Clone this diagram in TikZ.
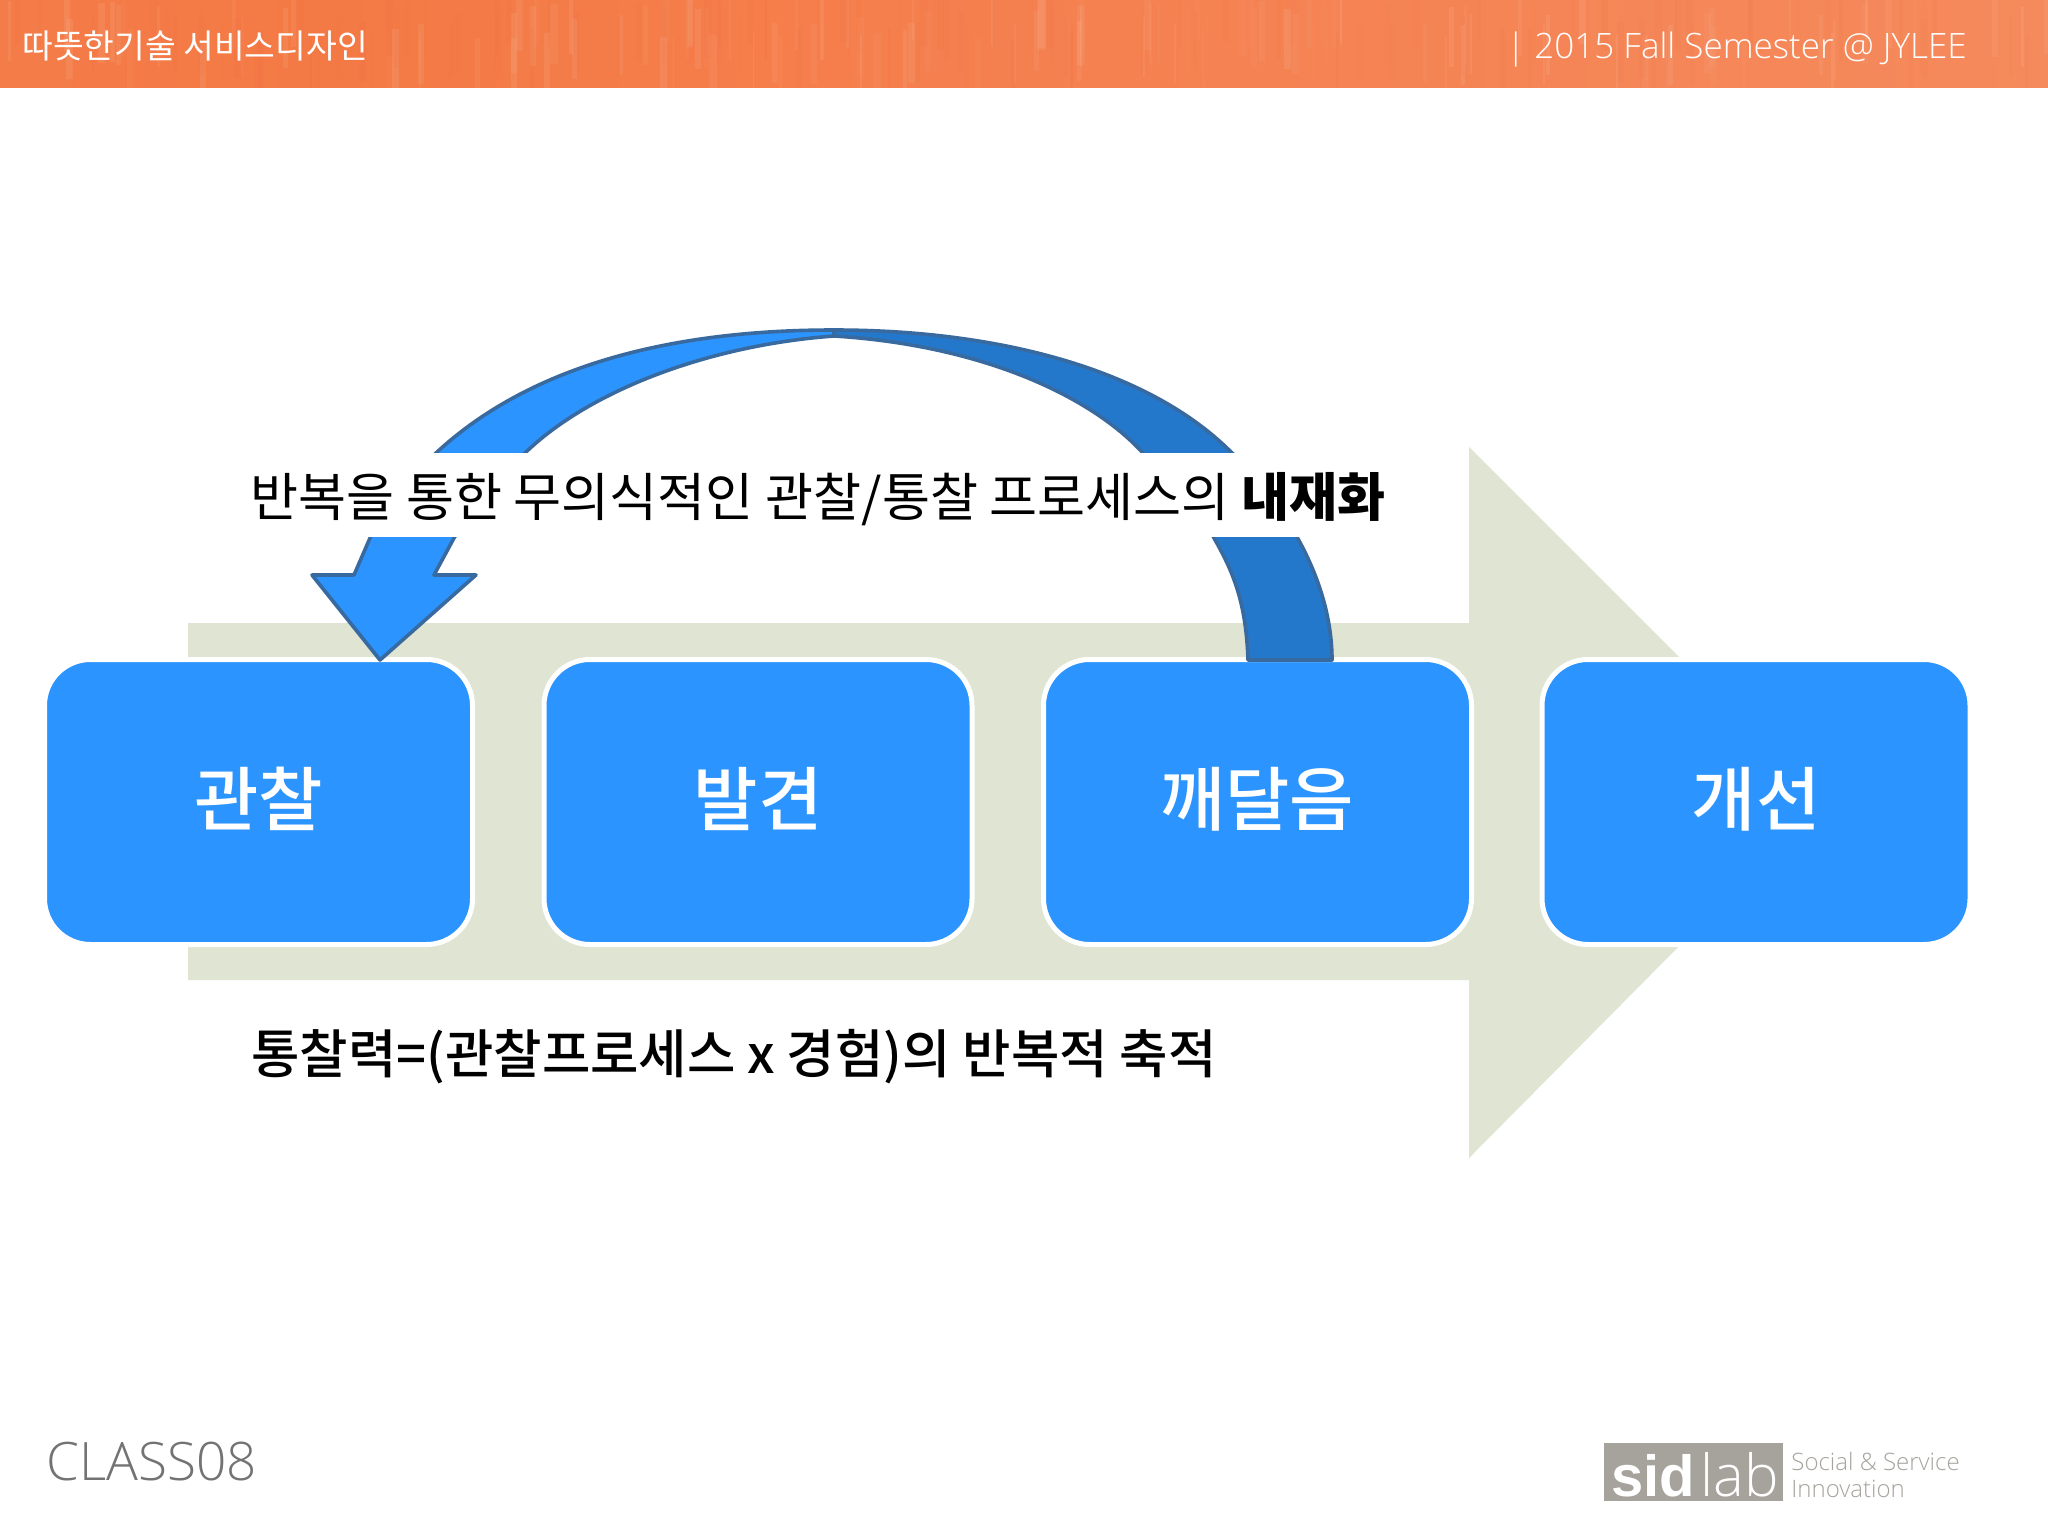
\documentclass[tikz,border=0pt]{standalone}
\usepackage{fontspec}
\setmainfont{Noto Sans CJK KR}
\newfontfamily\krmed{Noto Sans CJK KR Medium}
\newfontfamily\latinfont{Open Sans}
\newfontfamily\latinlight{Open Sans Light}
\newfontfamily\logofont{Liberation Sans}
\definecolor{boxblue}{HTML}{2C94FE}
\definecolor{darkblue}{HTML}{2478CB}
\definecolor{edgeblue}{HTML}{386AA0}
\definecolor{sage}{HTML}{DFE5D2}
\definecolor{logogrey}{HTML}{A5A39C}
\definecolor{ora1}{HTML}{F68A6C}
\definecolor{ora2}{HTML}{F5804F}
\definecolor{ora3}{HTML}{F47A45}
\definecolor{ora4}{HTML}{F58A5C}
\definecolor{ora5}{HTML}{E8603A}
\pgfdeclarehorizontalshading{headershade}{100bp}{
  color(0bp)=(ora1); color(8bp)=(ora2); color(33bp)=(ora3); color(50bp)=(ora2);
  color(75bp)=(ora4); color(97bp)=(ora4); color(100bp)=(ora5)}
\tikzset{
  x=0.5pt,y=-0.5pt,
  stagebox/.style={draw=white,line width=2.5pt,fill=boxblue,rounded corners=23pt,
    minimum width=214pt,minimum height=142.5pt,inner sep=0pt,text=white,
    font=\krmed\fontsize{35}{35}\selectfont},
  curved/.style={draw=edgeblue,line width=1.8pt,line join=round},
  headtext/.style={text=white,inner sep=0pt,anchor=base west},
}
\begin{document}
\begin{tikzpicture}
\useasboundingbox (0,0) rectangle (2048,1536);
\fill[white] (0,0) rectangle (2048,1536);
% header band
\shade[shading=headershade] (0,0) rectangle (2048,88);
\begin{scope}
\clip (0,0) rectangle (2048,88);
\pgfmathsetseed{7}
\foreach \i in {1,...,240}{
  \pgfmathsetmacro{\xa}{rnd*2048}
  \pgfmathsetmacro{\wa}{1+rnd*7}
  \pgfmathsetmacro{\ya}{rnd*60-20}
  \pgfmathsetmacro{\op}{0.02+rnd*0.06}
  \ifodd\i
    \fill[white,opacity=\op] (\xa,\ya) rectangle (\xa+\wa,\ya+60);
  \else
    \fill[ora5,opacity=\op] (\xa,\ya) rectangle (\xa+\wa,\ya+60);
  \fi
}
\end{scope}
\node[headtext,font=\fontsize{16.7}{16.7}\selectfont] (title) at (22,59) {따뜻한기술 서비스디자인};
\node[headtext,font=\latinlight\fontsize{17.5}{17.5}\selectfont,anchor=base east] (term) at (1967,59) {| 2015 Fall Semester @ JYLEE};
% big arrow
\fill[sage] (188,623) -- (1469,623) -- (1469,447) -- (1823,801) -- (1469,1158) -- (1469,980) -- (188,980) -- cycle;
% stages
\node[stagebox] (s1) at (258.5,802) {\raisebox{1.5pt}[\height][\depth]{관찰}};
\node[stagebox] (s2) at (758,802) {\raisebox{1.5pt}[\height][\depth]{발견}};
\node[stagebox] (s3) at (1257.5,802) {\raisebox{1.5pt}[\height][\depth]{깨달음}};
\node[stagebox] (s4) at (1756,802) {\raisebox{1.5pt}[\height][\depth]{개선}};
% curved arrow
\path[curved,fill=darkblue] (834,330) .. controls (1000,330) and (1150,370) .. (1232,453)
  .. controls (1295,515) and (1332,590) .. (1332,660) -- (1248,660)
  .. controls (1246,600) and (1232,570) .. (1214,538)
  .. controls (1195,500) and (1170,480) .. (1143,453)
  .. controls (1090,395) and (980,345) .. (834,336) -- cycle;
\path[curved,fill=boxblue] (834,330) .. controls (650,330) and (520,375) .. (436,453)
  .. controls (410,480) and (385,510) .. (370,538) -- (354,575) -- (312,575) -- (380,660)
  -- (476,575) -- (434,575) -- (454,538)
  .. controls (475,505) and (500,475) .. (525,453)
  .. controls (590,390) and (710,345) .. (834,336) -- cycle;
% captions
\node[fill=white,inner sep=0pt,minimum width=590pt,minimum height=42pt] (capband) at (818,495) {};
\node[inner sep=0pt,font=\fontsize{26.1}{26.1}\selectfont] (cap) at (818,499) {반복을 통한 무의식적인 관찰/통찰 프로세스의 \textbf{내재화}};
\node[inner sep=0pt,font=\krmed\fontsize{26.3}{26.3}\selectfont,anchor=west] (formula) at (251,1057) {통찰력=(관찰프로세스 x 경험)의 반복적 축적};
% footer
\node[inner sep=0pt,anchor=base west,text=black!55,font=\latinlight\fontsize{26.5}{26.5}\selectfont] (cls) at (46,1480) {CLASS08};
\node[fill=logogrey,minimum width=89.5pt,minimum height=29pt,inner sep=0pt,anchor=north west] (logo) at (1604,1443) {};
\node[inner sep=0pt,anchor=base west,text=white,font=\logofont\bfseries\fontsize{29}{29}\selectfont] (sid) at (1611,1496) {sid};
\node[inner sep=0pt,anchor=base west,text=white,font=\latinlight\fontsize{29}{29}\selectfont] (lab) at (1700,1496) {lab};
\node[inner sep=0pt,anchor=north west,align=left,text=logogrey,font=\latinlight\fontsize{12}{13.5}\selectfont] (soc) at (1791,1452) {Social \& Service\\Innovation};
\end{tikzpicture}
\end{document}
